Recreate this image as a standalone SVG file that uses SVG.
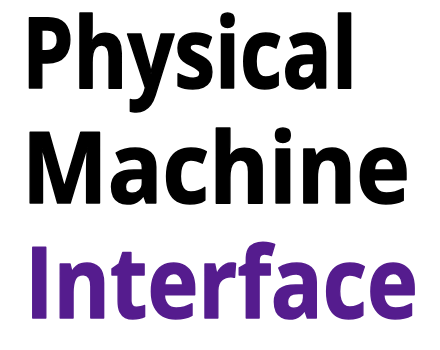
<svg xmlns="http://www.w3.org/2000/svg" width="440" height="350" viewBox="0 0 440 350">
<style>
.t{font-family:"Open Sans","Noto Sans","Liberation Sans",sans-serif;font-weight:700;font-size:98px;stroke-width:1.6;stroke-linejoin:round}
</style>
<rect width="440" height="350" fill="#ffffff"/>
<g id="line1"><text class="t" x="22" y="88" fill="#000000" stroke="#000000" textLength="335" lengthAdjust="spacingAndGlyphs">Physical</text></g>
<g id="line2"><text class="t" x="22" y="203" fill="#000000" stroke="#000000" textLength="388" lengthAdjust="spacingAndGlyphs">Machine</text></g>
<g id="line3"><text class="t" x="25" y="318" fill="#551C8E" stroke="#551C8E" textLength="393" lengthAdjust="spacingAndGlyphs">Interface</text></g>
</svg>
